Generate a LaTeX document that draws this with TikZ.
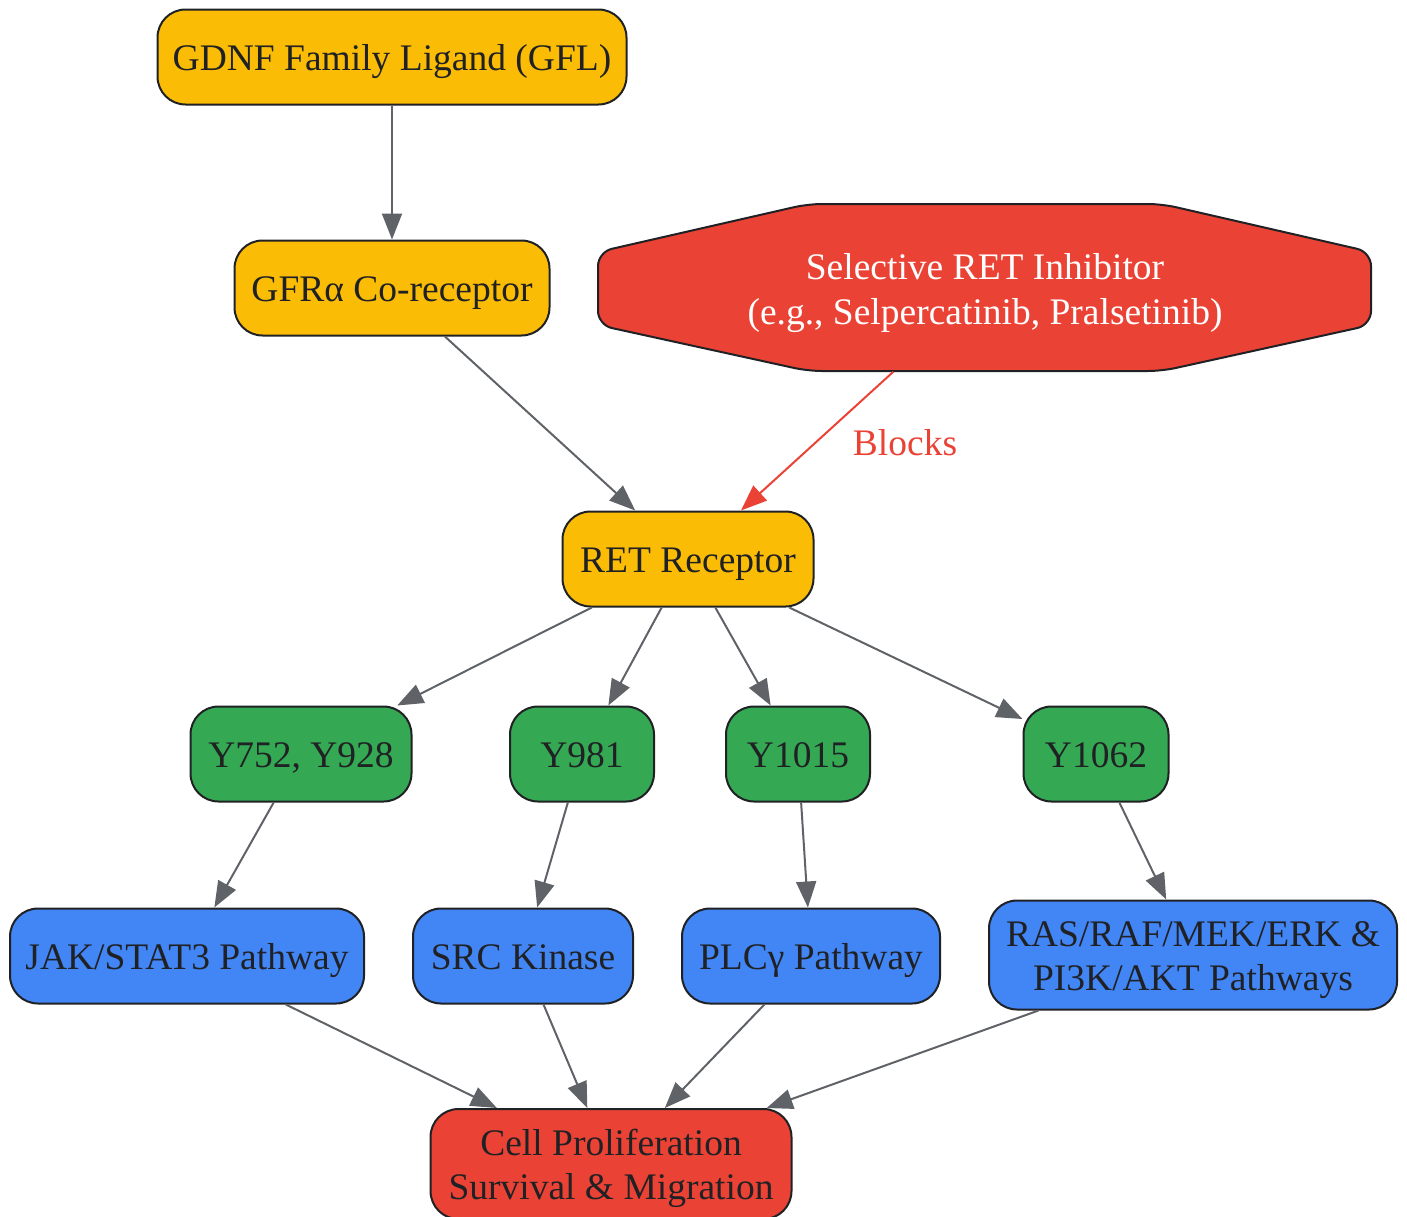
\documentclass[tikz,border=0pt]{standalone}
\usepackage{fontspec}
\setmainfont{Liberation Serif}
\usetikzlibrary{arrows.meta}
\definecolor{yel}{HTML}{FBBC05}
\definecolor{grn}{HTML}{34A853}
\definecolor{blu}{HTML}{4285F4}
\definecolor{rd}{HTML}{EA4335}
\definecolor{edgegray}{HTML}{5F6368}
\definecolor{txt}{HTML}{202124}
\definecolor{bord}{HTML}{202124}
\newcommand\nodetext[1]{\raisebox{-5pt}[\height][\depth]{\begin{tabular}{@{}c@{}}#1\end{tabular}}}
\begin{document}
\begin{tikzpicture}[x=1pt,y=-1pt,
  box/.style={draw=bord, line width=2pt, rounded corners=28pt, minimum height=95pt,
    text=txt, inner sep=0pt, font=\fontsize{37.5}{44}\selectfont},
  yelbox/.style={box, fill=yel},
  grnbox/.style={box, fill=grn},
  blubox/.style={box, fill=blu},
  redbox/.style={box, fill=rd},
  conn/.style={draw=edgegray, line width=2pt, -{Triangle[length=26pt,width=20pt]}},
  blockconn/.style={draw=rd, line width=2pt, -{Triangle[length=26pt,width=20pt]}},
  lbl/.style={text=rd, font=\fontsize{37.5}{44}\selectfont, inner sep=0pt}
]
\useasboundingbox (0,0) rectangle (1407,1216);

% nodes
\node[yelbox, minimum width=469pt] (gfl) at (392,57) {\nodetext{GDNF Family Ligand (GFL)}};
\node[yelbox, minimum width=315pt] (gfr) at (392,288) {\nodetext{GFRα Co-receptor}};
\node[yelbox, minimum width=251pt] (ret) at (688,559) {\nodetext{RET Receptor}};

% inhibitor octagon
\draw[draw=bord, fill=rd, line width=2pt, rounded corners=14pt]
  (808,204) -- (1162,204) -- (1371,252) -- (1371,325) -- (1162,371)
  -- (808,371) -- (598,325) -- (598,252) -- cycle;
\node[minimum width=773pt, minimum height=167pt, inner sep=0pt,
  text=white, font=\fontsize{37.5}{45}\selectfont] (inh) at (985,288)
  {\nodetext{Selective RET Inhibitor\\(e.g., Selpercatinib, Pralsetinib)}};

\node[grnbox, minimum width=221pt] (y752) at (301,754) {\nodetext{Y752, Y928}};
\node[grnbox, minimum width=144pt] (y981) at (582,754) {\nodetext{Y981}};
\node[grnbox, minimum width=144pt] (y1015) at (798,754) {\nodetext{Y1015}};
\node[grnbox, minimum width=145pt] (y1062) at (1096,754) {\nodetext{Y1062}};

\node[blubox, minimum width=354pt] (jak) at (187,956) {\nodetext{JAK/STAT3 Pathway}};
\node[blubox, minimum width=220pt] (src) at (523,956) {\nodetext{SRC Kinase}};
\node[blubox, minimum width=258pt] (plc) at (811,956) {\nodetext{PLCγ Pathway}};
\node[blubox, minimum width=408pt, minimum height=109pt] (ras) at (1193,955)
  {\nodetext{RAS/RAF/MEK/ERK \&\\PI3K/AKT Pathways}};

\node[redbox, minimum width=361pt, minimum height=110pt] (cell) at (611,1164)
  {\nodetext{Cell Proliferation\\Survival \& Migration}};

% connectors
\draw[conn] (gfl) -- (gfr);
\draw[conn] (gfr) -- (ret);
\draw[blockconn] (inh) -- (ret) node[lbl] at (905,443) {Blocks};
\draw[conn] (ret) -- (y752);
\draw[conn] (ret) -- (y981);
\draw[conn] (ret) -- (y1015);
\draw[conn] (ret) -- (y1062);
\draw[conn] (y752) -- (jak);
\draw[conn] (y981) -- (src);
\draw[conn] (y1015) -- (plc);
\draw[conn] (y1062) -- (ras);
\draw[conn] (jak) -- (cell);
\draw[conn] (src) -- (cell);
\draw[conn] (plc) -- (cell);
\draw[conn] (ras) -- (cell);
\end{tikzpicture}
\end{document}
